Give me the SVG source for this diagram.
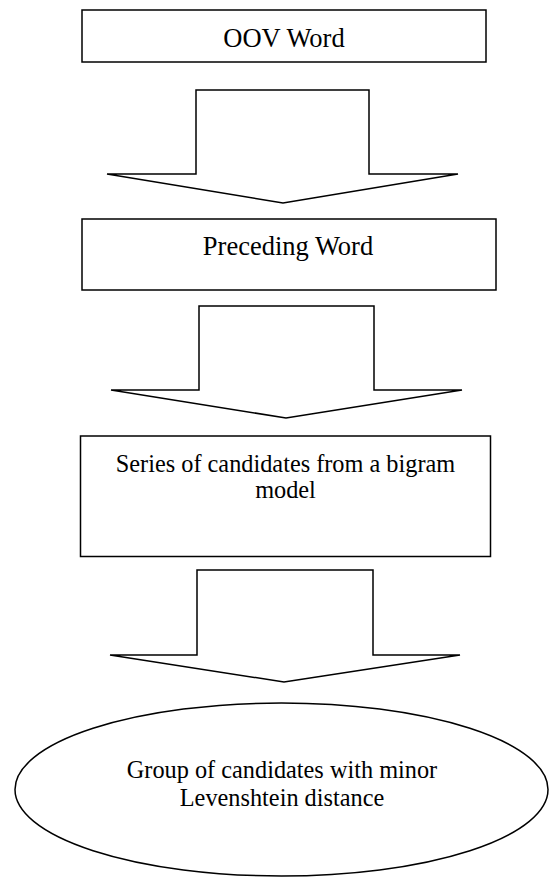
<svg xmlns="http://www.w3.org/2000/svg" width="553" height="877" viewBox="0 0 553 877">
  <style>
    .shape { fill: #ffffff; stroke: #000000; stroke-width: 1.5; }
    .label { font-family: "Liberation Serif", "Times New Roman", serif; font-size: 24.3px; fill: #000000; text-anchor: middle; }
    .label-lg { font-size: 26.5px; }
  </style>
  <rect width="553" height="877" fill="#ffffff"/>

  <!-- block arrows between the steps -->
  <g id="connectors">
    <polygon class="shape" points="196,90 369,90 369,174 458,174 283,203 107,174 196,174"/>
    <polygon class="shape" points="199,306 374,306 374,390 462,390 286,418 111,390 199,390"/>
    <polygon class="shape" points="197,570 373,570 373,655 460,655 284,682 110,655 197,655"/>
  </g>

  <g id="oov-word">
    <rect class="shape" x="82" y="10" width="404" height="52"/>
    <text class="label label-lg" x="284" y="46.5">OOV Word</text>
  </g>

  <g id="preceding-word">
    <rect class="shape" x="82" y="219" width="414" height="71"/>
    <text class="label label-lg" x="288" y="255">Preceding Word</text>
  </g>

  <g id="bigram-candidates">
    <rect class="shape" x="80.5" y="436" width="410" height="120.5"/>
    <text class="label" x="285.5" y="471.5">Series of candidates from a bigram</text>
    <text class="label" x="285.5" y="497.5">model</text>
  </g>

  <g id="levenshtein-group">
    <ellipse class="shape" cx="281.5" cy="789.5" rx="266.5" ry="86.5"/>
    <text class="label" x="282" y="778">Group of candidates with minor</text>
    <text class="label" x="282" y="806">Levenshtein distance</text>
  </g>
</svg>
